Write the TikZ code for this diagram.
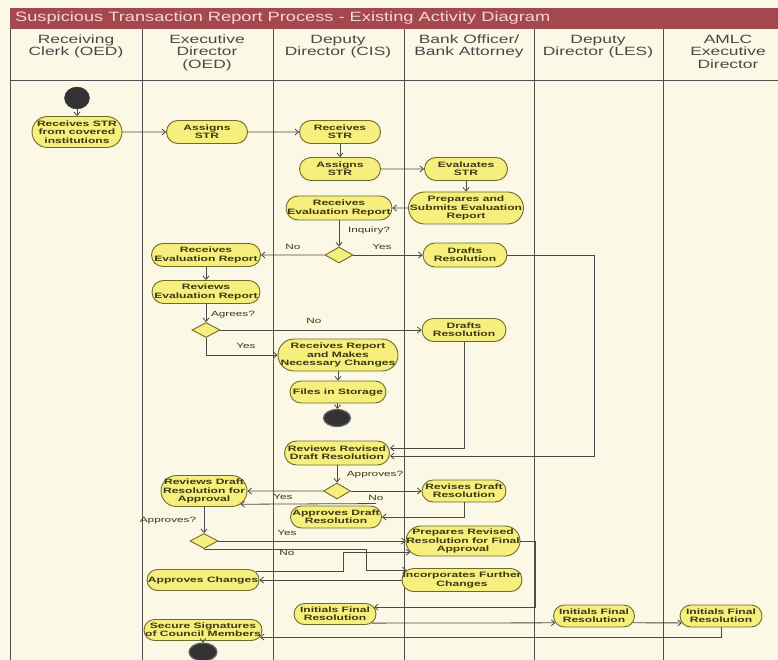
\documentclass[tikz,border=0pt]{standalone}
\usepackage{fontspec}
\setmainfont{Liberation Sans}
\newfontfamily\titlefont[FakeStretch=1.35]{Liberation Sans}
\newfontfamily\hdrfont[FakeStretch=1.45]{Liberation Sans}
\newfontfamily\actfont[FakeStretch=1.55]{Liberation Sans Bold}
\newfontfamily\lblfont[FakeStretch=1.55]{Liberation Sans}
\usetikzlibrary{shapes.misc,shapes.geometric,arrows.meta,calc}

\definecolor{bgcol}{HTML}{FBF9E5}
\definecolor{titlebar}{HTML}{A4484D}
\definecolor{titletext}{HTML}{F4D6D6}
\definecolor{hdrtext}{HTML}{484848}
\definecolor{gridline}{HTML}{505050}
\definecolor{actfill}{HTML}{F6EF7E}
\definecolor{actline}{HTML}{6E6A2C}
\definecolor{acttextcol}{HTML}{3A3812}
\definecolor{conn}{HTML}{4A4A4A}
\definecolor{dotcol}{HTML}{333333}

\tikzset{
  act/.style={rounded rectangle, draw=actline, fill=actfill, line width=0.9pt, inner sep=0pt},
  acttext/.style={font=\actfont\fontsize{7.8}{8.4}\selectfont, text=acttextcol, align=center, inner sep=0pt},
  dec/.style={diamond, draw=actline, fill=actfill, line width=0.9pt, inner sep=0pt},
  initnode/.style={ellipse, fill=dotcol, draw=dotcol, minimum width=25pt, minimum height=22pt, inner sep=0pt},
  finalnode/.style={ellipse, fill=dotcol, draw=black!60, line width=1.2pt, inner sep=0pt},
  flow/.style={draw=conn, line width=0.8pt, -{Straight Barb[length=3.5pt,width=6pt]}},
  guard/.style={font=\lblfont\fontsize{7.6}{8.4}\selectfont, text=acttextcol, inner sep=0pt},
  hdr/.style={font=\hdrfont\fontsize{12}{12.5}\selectfont, text=hdrtext, align=center, anchor=north, inner sep=0pt},
  grid/.style={draw=gridline, line width=0.9pt},
}

\begin{document}
\begin{tikzpicture}[x=1pt,y=-1pt]
\fill[bgcol] (0,0) rectangle (778,660);
\useasboundingbox (0,0) rectangle (778,660);

% title bar
\fill[titlebar] (10,8) rectangle (778,29);
\node[font=\titlefont\fontsize{13.5}{14}\selectfont, text=titletext, anchor=west, inner sep=0pt] (title) at (15,18.5) {Suspicious Transaction Report Process - Existing Activity Diagram};

% swimlane grid
\draw[grid] (10,29) -- (10,660);
\foreach \x in {142,273,404,534,663} \draw[grid] (\x,29) -- (\x,660);
\draw[grid] (10,80) -- (778,80);

% headers
\node[hdr] (h1) at (76,34.5) {\strut Receiving\\Clerk (OED)};
\node[hdr] (h2) at (207,34.5) {\strut Executive\\Director\\(OED)};
\node[hdr] (h3) at (338,34.5) {\strut Deputy\\Director (CIS)};
\node[hdr] (h4) at (469,34.5) {\strut Bank Officer/\\Bank Attorney};
\node[hdr] (h5) at (598,34.5) {\strut Deputy\\Director (LES)};
\node[hdr] (h6) at (728,34.5) {\strut AMLC\\Executive\\Director};

% nodes
\node[initnode] (s0) at (77,98) {};
\node[act, minimum width=90pt, minimum height=31pt, label={[acttext]center:{Receives STR\\from covered\\institutions}}] (a1) at (77,132) {};
\node[act, minimum width=81pt, minimum height=23pt, label={[acttext]center:{Assigns\\STR}}] (a2) at (207,132) {};
\node[act, minimum width=81pt, minimum height=23pt, label={[acttext]center:{Receives\\STR}}] (a3) at (340,132) {};
\node[act, minimum width=81pt, minimum height=23pt, label={[acttext]center:{Assigns\\STR}}] (a4) at (340,169) {};
\node[act, minimum width=83pt, minimum height=23pt, label={[acttext]center:{Evaluates\\STR}}] (a5) at (466,169) {};
\node[act, minimum width=115pt, minimum height=32pt, label={[acttext]center:{Prepares and\\Submits Evaluation\\Report}}] (a6) at (466,208) {};
\node[act, minimum width=106pt, minimum height=24pt, label={[acttext]center:{Receives\\Evaluation Report}}] (a7) at (339,208) {};
\node[dec, minimum width=28pt, minimum height=16pt] (d1) at (339,255) {};
\node[act, minimum width=109pt, minimum height=23pt, label={[acttext]center:{Receives\\Evaluation Report}}] (a8) at (206,255) {};
\node[act, minimum width=84pt, minimum height=24pt, label={[acttext]center:{Drafts\\Resolution}}] (a9) at (465,255) {};
\node[act, minimum width=108pt, minimum height=23pt, label={[acttext]center:{Reviews\\Evaluation Report}}] (a10) at (206,292) {};
\node[dec, minimum width=28pt, minimum height=15pt] (d2) at (206,330) {};
\node[act, minimum width=84pt, minimum height=23pt, label={[acttext]center:{Drafts\\Resolution}}] (a11) at (464,330) {};
\node[act, minimum width=120pt, minimum height=32pt, label={[acttext]center:{Receives Report\\and Makes\\Necessary Changes}}] (a12) at (338,355) {};
\node[act, minimum width=96pt, minimum height=22pt, label={[acttext]center:{Files in Storage}}] (a13) at (338,392) {};
\node[finalnode, minimum width=27pt, minimum height=17pt] (e1) at (337,418) {};
\node[act, minimum width=105pt, minimum height=24pt, label={[acttext]center:{Reviews Revised\\Draft Resolution}}] (a14) at (337,453) {};
\node[dec, minimum width=27pt, minimum height=16pt] (d3) at (337,491) {};
\node[act, minimum width=86pt, minimum height=31pt, label={[acttext]center:{Reviews Draft\\Resolution for\\Approval}}] (a15) at (204,491) {};
\node[act, minimum width=84pt, minimum height=22pt, label={[acttext]center:{Revises Draft\\Resolution}}] (a16) at (464,491) {};
\node[act, minimum width=91pt, minimum height=22pt, label={[acttext]center:{Approves Draft\\Resolution}}] (a17) at (336,517) {};
\node[dec, minimum width=28pt, minimum height=15pt] (d4) at (204,541) {};
\node[act, minimum width=114pt, minimum height=30pt, label={[acttext]center:{Prepares Revised\\Resolution for Final\\Approval}}] (a18) at (463,541) {};
\node[act, minimum width=120pt, minimum height=23pt, label={[acttext]center:{Incorporates Further\\Changes}}] (a19) at (462,580) {};
\node[act, minimum width=112pt, minimum height=21pt, label={[acttext]center:{Approves Changes}}] (a20) at (203,580) {};
\node[act, minimum width=82pt, minimum height=21pt, label={[acttext]center:{Initials Final\\Resolution}}] (a21) at (335,614) {};
\node[act, minimum width=81pt, minimum height=22pt, label={[acttext]center:{Initials Final\\Resolution}}] (a22) at (594,616) {};
\node[act, minimum width=82pt, minimum height=22pt, label={[acttext]center:{Initials Final\\Resolution}}] (a23) at (721,616) {};
\node[act, minimum width=118pt, minimum height=21pt, label={[acttext]center:{Secure Signatures\\of Council Members}}] (a24) at (203,630) {};
\node[finalnode, minimum width=28pt, minimum height=18pt] (e2) at (203,652) {};

% guard labels
\node[guard] (l1) at (369,231) {Inquiry?};
\node[guard] (l2) at (293,247) {No};
\node[guard] (l3) at (382,247) {Yes};
\node[guard] (l4) at (233,315) {Agrees?};
\node[guard] (l5) at (314,321) {No};
\node[guard] (l6) at (246,346) {Yes};
\node[guard] (l7) at (375,475) {Approves?};
\node[guard] (l8) at (283,497) {Yes};
\node[guard] (l9) at (376,498) {No};
\node[guard] (l10) at (168,521) {Approves?};
\node[guard] (l11) at (287,533) {Yes};
\node[guard] (l12) at (287,553) {No};

% helper coordinates
\coordinate (c1) at (594,456);
\coordinate (c2) at (464,448);
\coordinate (c3) at ($(a17.north)+(40,-2)$);
\coordinate (c4) at (366,560);
\coordinate (c5) at (343.5,560);

% connectors
\draw[flow] (s0) -- (a1);
\draw[flow] (a1) -- (a2);
\draw[flow] (a2) -- (a3);
\draw[flow] (a3) -- (a4);
\draw[flow] (a4) -- (a5);
\draw[flow] (a5) -- (a6);
\draw[flow] (a6) -- (a7);
\draw[flow] (a7) -- (d1);
\draw[flow] (d1) -- (a8);
\draw[flow] (d1) -- (a9);
\draw[flow] (a9.east) -| (c1) -- (c1 -| a14.east);
\draw[flow] (a8) -- (a10);
\draw[flow] (a10) -- (d2);
\draw[flow] (d2) -- (a11);
\draw[flow] (d2.south) |- (a12.west);
\draw[flow] (a11.south) |- (c2 -| a14.east);
\draw[flow] (a12) -- (a13);
\draw[flow] (a13) -- (e1);
\draw[flow] (a14) -- (d3);
\draw[flow] (d3) -- (a15);
\draw[flow] (d3) -- (a16);
\draw[flow] (a16.south) |- (a17.east);
\draw[flow] (c3) -- (a15.-20);
\draw[flow] (a15) -- (d4);
\draw[flow] (d4) -- (a18);
\draw[flow] (d4.south) -| (a19.170 -| c4) -- (a19.170);
\draw[flow] (a19.west) -- (a20.east);
\draw[flow] (a20.9) -| (a18.192 -| c5) -- (a18.192);
\draw[flow] (a18.east) -- ++(15,0) |- (a21.10);
\draw[flow] (a21.-14) -- (a22.190);
\draw[flow] (a22.-10) -- (a23.190);
\draw[flow] (a23.south) |- (a24.-7);
\draw[flow] (a24) -- (e2);
\end{tikzpicture}
\end{document}
